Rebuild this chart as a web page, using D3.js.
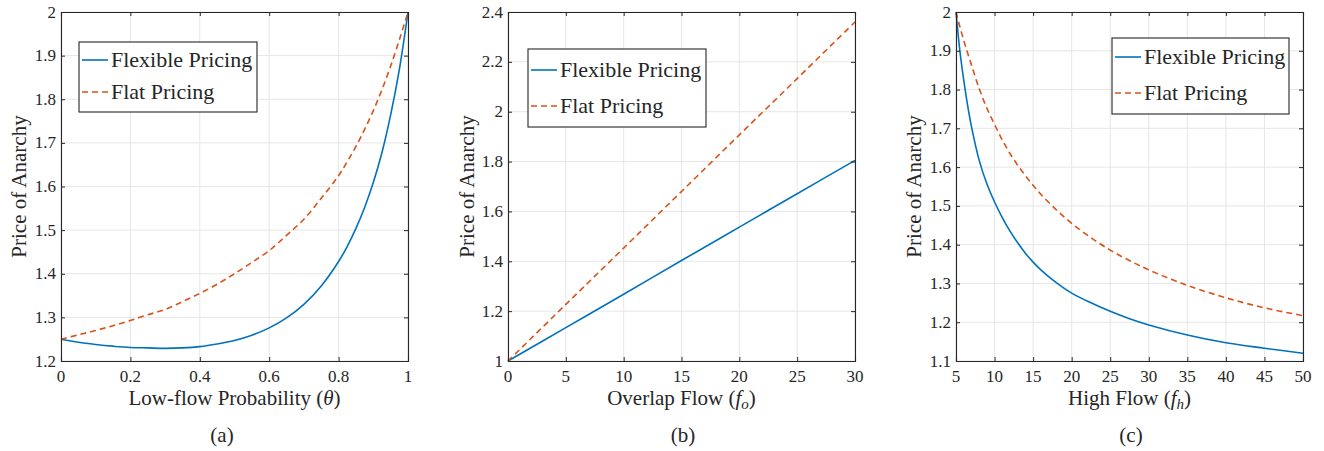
<!DOCTYPE html>
<html>
<head>
<meta charset="utf-8">
<script src="https://cdn.jsdelivr.net/npm/d3@7"></script>
<style>
  html, body { margin: 0; padding: 0; background: #fff; }
  svg { display: block; }
</style>
</head>
<body>
<svg id="chart" width="1324" height="451"></svg>
<script>
// ---------------- DATA ----------------
// Panel (a): Low-flow probability theta
const thetaVals = [0,0.05,0.1,0.15,0.2,0.25,0.3,0.35,0.4,0.45,0.5,0.55,0.6,0.65,0.7,0.75,0.8,0.825,0.85,0.875,0.9,0.925,0.95,0.975,1];
const aFlexible = [1.250,1.243,1.238,1.234,1.231,1.230,1.229,1.230,1.233,1.239,1.247,1.259,1.276,1.299,1.330,1.372,1.428,1.463,1.504,1.552,1.609,1.678,1.764,1.868,2.000];
const aFlat     = [1.250,1.260,1.270,1.281,1.293,1.306,1.318,1.336,1.355,1.376,1.400,1.426,1.453,1.488,1.525,1.573,1.625,1.657,1.692,1.731,1.774,1.822,1.876,1.936,2.000];
const aXTicks = [0,0.2,0.4,0.6,0.8,1];
const aYTicks = [1.2,1.3,1.4,1.5,1.6,1.7,1.8,1.9,2];

// Panel (b): Overlap flow f_o
const foVals = [0,5,10,15,20,25,30];
const bFlexible = [1.000,1.134,1.268,1.403,1.537,1.671,1.805];
const bFlat     = [1.000,1.227,1.453,1.680,1.907,2.133,2.360];
const bXTicks = [0,5,10,15,20,25,30];
const bYTicks = [1,1.2,1.4,1.6,1.8,2,2.2,2.4];

// Panel (c): High flow f_h
const fhVals = [5,5.5,6,6.5,7,8,9,10,11,12,13,14,15,16,18,20,22.5,25,27.5,30,35,40,45,50];
const cFlexible = [2.000,1.900,1.825,1.760,1.705,1.618,1.557,1.510,1.470,1.435,1.405,1.378,1.355,1.335,1.302,1.275,1.250,1.228,1.209,1.193,1.167,1.147,1.133,1.120];
const cFlat     = [2.000,1.962,1.927,1.895,1.864,1.803,1.752,1.710,1.670,1.635,1.605,1.578,1.553,1.530,1.490,1.455,1.418,1.386,1.359,1.335,1.295,1.263,1.237,1.217];
const cXTicks = [5,10,15,20,25,30,35,40,45,50];
const cYTicks = [1.1,1.2,1.3,1.4,1.5,1.6,1.7,1.8,1.9,2];

const seriesNames = ["Flexible Pricing", "Flat Pricing"];
const seriesColors = ["#0072BD", "#D95319"];

// ---------------- LAYOUT ----------------
const FONT = "'Liberation Serif', 'DejaVu Serif', 'Times New Roman', Times, serif";
const svg = d3.select("#chart").attr("font-family", FONT);
const TOP = 12, BOTTOM = 361;

const panels = [
  { left: 61, right: 408, xDom: [0,1], yDom: [1.2,2], x: thetaVals, ys: [aFlexible, aFlat],
    xTicks: aXTicks, yTicks: aYTicks, xLabel: ["Low-flow Probability (", ["θ", null], ")"],
    yLabelX: 19, caption: "(a)", captionX: 222,
    legend: { x: 79, y: 42, w: 178, h: 70, rows: [60, 92] } },
  { left: 508, right: 855, xDom: [0,30], yDom: [1,2.4], x: foVals, ys: [bFlexible, bFlat],
    xTicks: bXTicks, yTicks: bYTicks, xLabel: ["Overlap Flow (", ["f", "o"], ")"],
    yLabelX: 467, caption: "(b)", captionX: 683,
    legend: { x: 528, y: 49, w: 178, h: 78, rows: [70, 106] } },
  { left: 956, right: 1303, xDom: [5,50], yDom: [1.1,2], x: fhVals, ys: [cFlexible, cFlat],
    xTicks: cXTicks, yTicks: cYTicks, xLabel: ["High Flow (", ["f", "h"], ")"],
    yLabelX: 914, caption: "(c)", captionX: 1131,
    legend: { x: 1112, y: 38, w: 177, h: 76, rows: [57, 93] } }
];

const fmt = v => String(Math.round(v * 10) / 10);
const txt = sel => sel.attr("font-family", FONT).attr("fill", "#262626");

panels.forEach(p => {
  const xs = d3.scaleLinear().domain(p.xDom).range([p.left, p.right]);
  const ys = d3.scaleLinear().domain(p.yDom).range([BOTTOM, TOP]);
  const g = svg.append("g");

  // grid
  g.append("g").selectAll("line").data(p.xTicks).join("line")
    .attr("x1", d => xs(d)).attr("x2", d => xs(d)).attr("y1", TOP).attr("y2", BOTTOM)
    .attr("stroke", "#e6e6e6").attr("stroke-width", 1);
  g.append("g").selectAll("line").data(p.yTicks).join("line")
    .attr("y1", d => ys(d)).attr("y2", d => ys(d)).attr("x1", p.left).attr("x2", p.right)
    .attr("stroke", "#e6e6e6").attr("stroke-width", 1);

  // lines
  p.ys.forEach((vals, i) => {
    const line = d3.line().x((d, j) => xs(p.x[j])).y(d => ys(d)).curve(d3.curveCatmullRom.alpha(0.5));
    g.append("path").datum(vals)
      .attr("d", line)
      .attr("fill", "none")
      .attr("stroke", seriesColors[i])
      .attr("stroke-width", 1.6)
      .attr("stroke-dasharray", i === 1 ? "6,4" : null);
  });

  // axes (ticks inward, box)
  const tl = 4;
  const axB = d3.axisBottom(xs).tickValues(p.xTicks).tickSize(-tl).tickFormat("");
  const axT = d3.axisTop(xs).tickValues(p.xTicks).tickSize(-tl).tickFormat("");
  const axL = d3.axisLeft(ys).tickValues(p.yTicks).tickSize(-tl).tickFormat("");
  const axR = d3.axisRight(ys).tickValues(p.yTicks).tickSize(-tl).tickFormat("");
  [[axB, `translate(0,${BOTTOM})`], [axT, `translate(0,${TOP})`],
   [axL, `translate(${p.left},0)`], [axR, `translate(${p.right},0)`]].forEach(([ax, tr]) => {
    const a = g.append("g").attr("transform", tr).call(ax);
    a.select(".domain").attr("stroke", "#262626").attr("stroke-width", 1.1);
    a.selectAll(".tick line").attr("stroke", "#262626").attr("stroke-width", 1);
  });

  // tick labels
  g.append("g").selectAll("text").data(p.xTicks).join("text")
    .call(txt)
    .attr("x", d => xs(d)).attr("y", BOTTOM + 21)
    .attr("text-anchor", "middle").attr("font-size", 17)
    .text(d => fmt(d));
  g.append("g").selectAll("text").data(p.yTicks).join("text")
    .call(txt)
    .attr("x", p.left - 5).attr("y", d => ys(d) + 5.5)
    .attr("text-anchor", "end").attr("font-size", 17)
    .text(d => fmt(d));

  // x label
  const xl = g.append("text").call(txt)
    .attr("x", (p.left + p.right) / 2).attr("y", 405)
    .attr("text-anchor", "middle").attr("font-size", 21);
  xl.append("tspan").text(p.xLabel[0]);
  xl.append("tspan").attr("font-style", "italic").text(p.xLabel[1][0]);
  if (p.xLabel[1][1]) {
    xl.append("tspan").attr("font-style", "italic").attr("font-size", 15).attr("dy", 4).text(p.xLabel[1][1]);
    xl.append("tspan").attr("dy", -4).text(p.xLabel[2]);
  } else {
    xl.append("tspan").text(p.xLabel[2]);
  }

  // y label
  g.append("text").call(txt)
    .attr("transform", `translate(${p.yLabelX + 7},${(TOP + BOTTOM) / 2}) rotate(-90)`)
    .attr("text-anchor", "middle").attr("font-size", 21)
    .text("Price of Anarchy");

  // caption
  g.append("text").call(txt).attr("x", p.captionX).attr("y", 442)
    .attr("text-anchor", "middle").attr("font-size", 21).text(p.caption);

  // legend
  const L = p.legend;
  const lg = g.append("g");
  lg.append("rect").attr("x", L.x).attr("y", L.y).attr("width", L.w).attr("height", L.h)
    .attr("fill", "#fff").attr("stroke", "#262626").attr("stroke-width", 1.1);
  seriesNames.forEach((name, i) => {
    lg.append("line").attr("x1", L.x + 3).attr("x2", L.x + 29)
      .attr("y1", L.rows[i]).attr("y2", L.rows[i])
      .attr("stroke", seriesColors[i]).attr("stroke-width", 1.6)
      .attr("stroke-dasharray", i === 1 ? "6,4" : null);
    lg.append("text").call(txt).attr("x", L.x + 32).attr("y", L.rows[i] + 7)
      .attr("font-size", 22).text(name);
  });
});
</script>
</body>
</html>
